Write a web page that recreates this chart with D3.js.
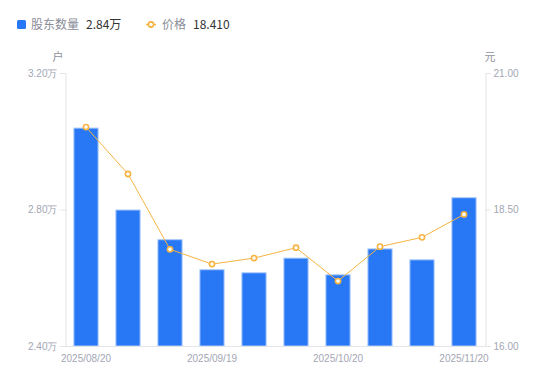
<!DOCTYPE html>
<html>
<head>
<meta charset="utf-8">
<script src="https://cdn.jsdelivr.net/npm/d3@7"></script>
<style>
  body { margin: 0; background: #fff; }
  svg { font-family: "Noto Sans CJK SC", "Liberation Sans", sans-serif; }
</style>
</head>
<body>
<svg id="chart" width="550" height="381"></svg>
<script>
// data
const dates = ["2025/08/20", "2025/08/31", "2025/09/10", "2025/09/19", "2025/09/30",
  "2025/10/10", "2025/10/20", "2025/10/31", "2025/11/10", "2025/11/20"];
const holders = [3.04, 2.80, 2.713, 2.625, 2.616, 2.659, 2.61, 2.686, 2.654, 2.836]; // 万户
const prices = [20.01, 19.15, 17.77, 17.50, 17.61, 17.80, 17.19, 17.82, 17.99, 18.41];
const leftTicks = [2.40, 2.80, 3.20];
const rightTicks = [16.00, 18.50, 21.00];
const shownDates = ["2025/08/20", "2025/09/19", "2025/10/20", "2025/11/20"];

const barColor = "#2878f5";
const lineColor = "#f6b443";
const axisColor = "#e3e3e8";
const labelColor = "#a3a6b4";

const svg = d3.select("#chart");
const plotLeft = 65, plotRight = 485, plotTop = 73, plotBottom = 346;

const x = d3.scaleBand().domain(dates).range([plotLeft, plotRight]).paddingInner(0.4).paddingOuter(0.2);
const yL = d3.scaleLinear().domain([2.40, 3.20]).range([plotBottom, plotTop]);
const yR = d3.scaleLinear().domain([16, 21]).range([plotBottom, plotTop]);

// bars
svg.append("g").selectAll("rect")
  .data(holders)
  .join("rect")
  .attr("x", (d, i) => x(dates[i]) + 0.5)
  .attr("y", d => yL(d) + 0.5)
  .attr("width", x.bandwidth() - 1)
  .attr("height", d => plotBottom - yL(d) - 0.5)
  .attr("fill", barColor)
  .attr("stroke", "#a9c9fb")
  .attr("stroke-width", 1);

// axes
const axL = svg.append("g").attr("transform", `translate(${plotLeft + 0.5},0)`)
  .call(d3.axisLeft(yL).tickValues(leftTicks).tickSize(5).tickPadding(3)
    .tickFormat(d => d.toFixed(2) + "万"));
const axR = svg.append("g").attr("transform", `translate(${plotRight + 0.5},0)`)
  .call(d3.axisRight(yR).tickValues(rightTicks).tickSize(5).tickPadding(3)
    .tickFormat(d => d.toFixed(2)));
const axB = svg.append("g").attr("transform", `translate(0,${plotBottom + 0.5})`)
  .call(d3.axisBottom(x).tickValues(shownDates).tickSize(0).tickPadding(8));

[axL, axR, axB].forEach(a => {
  a.select(".domain").attr("stroke", axisColor);
  a.selectAll(".tick line").attr("stroke", axisColor);
  a.selectAll("text").attr("fill", labelColor).attr("font-size", 10)
    .attr("font-family", "'Liberation Sans', sans-serif");
});
axB.select(".domain").attr("d", `M${plotLeft},0H${plotRight}`);

// units
svg.append("text").attr("x", 58).attr("y", 61).attr("text-anchor", "middle")
  .attr("font-size", 11).attr("fill", "#8e909c").text("户");
svg.append("text").attr("x", 490).attr("y", 61).attr("text-anchor", "middle")
  .attr("font-size", 11).attr("fill", "#8e909c").text("元");

// price line
const line = d3.line().x((d, i) => x(dates[i]) + x.bandwidth() / 2).y(d => yR(d));
svg.append("path").datum(prices)
  .attr("d", line)
  .attr("fill", "none")
  .attr("stroke", lineColor)
  .attr("stroke-width", 1);
svg.append("g").selectAll("circle")
  .data(prices)
  .join("circle")
  .attr("cx", (d, i) => x(dates[i]) + x.bandwidth() / 2)
  .attr("cy", d => yR(d))
  .attr("r", 2.6)
  .attr("fill", "#fff")
  .attr("stroke", lineColor)
  .attr("stroke-width", 1.6);

// legend
const lg = svg.append("g").attr("font-size", 12);
lg.append("rect").attr("x", 17).attr("y", 20).attr("width", 9).attr("height", 9)
  .attr("rx", 1.5).attr("fill", barColor);
lg.append("text").attr("x", 31).attr("y", 29).attr("fill", "#8a8c98").text("股东数量");
lg.append("text").attr("x", 86).attr("y", 29).attr("fill", "#333")
  .text(holders[holders.length - 1].toFixed(2) + "万");
lg.append("line").attr("x1", 146).attr("x2", 156).attr("y1", 24.5).attr("y2", 24.5)
  .attr("stroke", lineColor).attr("stroke-width", 1.5);
lg.append("circle").attr("cx", 151).attr("cy", 24.5).attr("r", 2.6)
  .attr("fill", "#fff").attr("stroke", lineColor).attr("stroke-width", 1.6);
lg.append("text").attr("x", 162).attr("y", 29).attr("fill", "#8a8c98").text("价格");
lg.append("text").attr("x", 193).attr("y", 29).attr("fill", "#333")
  .text(prices[prices.length - 1].toFixed(3));
</script>
</body>
</html>
